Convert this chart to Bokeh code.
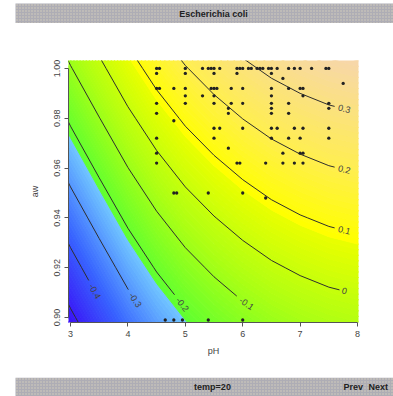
import numpy as np
from bokeh.plotting import figure
from bokeh.plotting.contour import contour_data
from bokeh.models import Range1d, FixedTicker, PrintfTickFormatter
from bokeh.layouts import column, row
from bokeh.embed import file_html
from bokeh.resources import INLINE
from bokeh.core.properties import value

# ---------------- data ----------------
title_text = "Escherichia coli"
footer_text = "temp=20"
nav_texts = ["Prev", "Next"]

ph_grid = [2.5, 3.0, 3.5, 4.0, 4.5, 5.0, 5.5, 6.0, 6.5, 7.0, 7.5, 8.0, 8.5]
aw_grid = [0.88, 0.90, 0.92, 0.94, 0.96, 0.98, 1.00, 1.02]
# modelled growth value (rows: aw, columns: pH)
growth_table = [
    [-0.692, -0.597, -0.512, -0.429, -0.357, -0.297, -0.249, -0.209, -0.176, -0.151, -0.132, -0.120, -0.112],
    [-0.610, -0.515, -0.430, -0.347, -0.275, -0.215, -0.167, -0.127, -0.094, -0.069, -0.050, -0.038, -0.030],
    [-0.528, -0.433, -0.348, -0.265, -0.193, -0.133, -0.085, -0.045, -0.012, 0.013, 0.032, 0.044, 0.052],
    [-0.446, -0.351, -0.266, -0.183, -0.111, -0.051, -0.003, 0.037, 0.070, 0.095, 0.114, 0.126, 0.134],
    [-0.364, -0.269, -0.184, -0.101, -0.029, 0.031, 0.079, 0.119, 0.152, 0.177, 0.196, 0.208, 0.216],
    [-0.282, -0.187, -0.102, -0.019, 0.053, 0.113, 0.161, 0.201, 0.234, 0.259, 0.278, 0.290, 0.298],
    [-0.200, -0.105, -0.020, 0.063, 0.135, 0.195, 0.243, 0.283, 0.316, 0.341, 0.360, 0.372, 0.380],
    [-0.118, -0.023, 0.062, 0.145, 0.217, 0.277, 0.325, 0.365, 0.398, 0.423, 0.442, 0.454, 0.462],
]
z_low, z_high = -0.53, 0.385

contour_levels = [-0.5, -0.4, -0.3, -0.2, -0.1, 0.0, 0.1, 0.2, 0.3]
contour_labels = ["", "-0.4", "-0.3", "-0.2", "-0.1", "0", "0.1", "0.2", "0.3"]
# where along each line the label sits (aw for negative levels, pH for the others)
label_at = [None, 0.9105, 0.907, 0.9052, 0.9055, 7.77, 7.77, 7.77, 7.77]

obs_ph = [
    4.5, 4.55, 5.0, 5.3, 5.4, 5.45, 5.5, 5.6, 5.9, 5.95, 6.0, 6.1, 6.15, 6.25, 6.3, 6.35, 6.45, 6.5, 6.6, 6.8, 6.9, 7.0, 7.2, 7.45, 7.5,
    4.5, 5.0, 5.5, 5.9, 6.5,
    6.7, 7.75,
    4.5, 4.55, 4.8, 5.0, 5.45, 5.5, 5.55, 5.8, 6.0, 6.5, 6.8, 7.0, 7.05,
    5.0, 5.3, 5.5, 6.5, 7.05,
    4.5, 5.0, 5.5, 5.8, 6.0, 6.5, 6.8, 7.5,
    5.75, 6.5, 7.5,
    4.5, 5.75, 6.5, 6.8,
    4.8,
    5.5, 5.6, 6.0, 6.5, 6.6, 6.9, 7.05, 7.5,
    4.5, 5.5, 6.5, 6.8, 7.0, 7.5,
    5.75,
    4.5, 6.7, 7.0, 7.05,
    4.5, 5.9, 5.95, 6.4, 6.7, 6.9, 7.05,
    4.8, 4.85, 5.4, 6.0, 6.4,
    4.65, 4.8, 4.95, 5.4, 6.0,
]
obs_aw = [
    1.0, 1.0, 1.0, 1.0, 1.0, 1.0, 1.0, 1.0, 1.0, 1.0, 1.0, 1.0, 1.0, 1.0, 1.0, 1.0, 1.0, 1.0, 1.0, 1.0, 1.0, 1.0, 1.0, 1.0, 1.0,
    0.998, 0.998, 0.998, 0.998, 0.998,
    0.996, 0.994,
    0.992, 0.992, 0.992, 0.992, 0.992, 0.992, 0.992, 0.992, 0.992, 0.992, 0.992, 0.992, 0.992,
    0.989, 0.989, 0.989, 0.989, 0.989,
    0.986, 0.986, 0.986, 0.986, 0.986, 0.986, 0.986, 0.986,
    0.984, 0.984, 0.984,
    0.982, 0.982, 0.982, 0.982,
    0.979,
    0.976, 0.976, 0.976, 0.976, 0.976, 0.976, 0.976, 0.976,
    0.972, 0.972, 0.972, 0.972, 0.972, 0.972,
    0.968,
    0.966, 0.966, 0.966, 0.966,
    0.962, 0.962, 0.962, 0.962, 0.962, 0.962, 0.962,
    0.950, 0.950, 0.950, 0.950, 0.948,
    0.899, 0.899, 0.899, 0.899, 0.899,
]

ph_ticks = [3, 4, 5, 6, 7, 8]
aw_ticks = [0.90, 0.92, 0.94, 0.96, 0.98, 1.00]

# ---------------- layout / style ----------------
FONT = "Liberation Sans"
W = 393
TOP_H, MAIN_H, BOT_H = 23, 354, 19
X_RANGE = (2.965, 8.017)
Y_RANGE = (0.898, 1.0032)
BL, BR, BT, BB = 68, 35, 37, 55
FRAME_W = W - BL - BR
FRAME_H = MAIN_H - BT - BB


def ramp(stops, n):
    pos = [s[0] for s in stops]
    out = []
    for t in np.linspace(0, 1, n):
        rgb = [np.interp(t, pos, [s[1][k] for s in stops]) for k in range(3)]
        out.append("#%02x%02x%02x" % tuple(int(round(c)) for c in rgb))
    return out


blue = ramp([(0, (58, 16, 246)), (0.5, (56, 100, 255)), (1, (112, 196, 255))], 34)
green = ramp([(0, (96, 255, 48)), (0.5, (170, 255, 20)), (1, (232, 255, 0))], 33)
warm = ramp([(0, (255, 255, 0)), (0.4, (255, 238, 80)), (1, (247, 215, 168))], 33)
palette = blue + green + warm

inner = [float(v) for v in np.linspace(z_low, z_high, len(palette) + 1)]
fill_levels = [-0.9] + inner + [0.6]
fill_colors = [palette[0]] + palette + [palette[-1]]

Z = np.array(growth_table, dtype=float)

p = figure(width=W, height=MAIN_H, x_range=Range1d(*X_RANGE), y_range=Range1d(*Y_RANGE),
           toolbar_location=None, output_backend="svg",
           min_border_left=BL, min_border_right=BR, min_border_top=BT, min_border_bottom=BB)
p.outline_line_color = None
p.grid.visible = False
p.background_fill_color = "white"

# filled colour bands computed by bokeh's contouring, stroked in their own colour (no seams)
cdf = contour_data(ph_grid, aw_grid, Z, levels=fill_levels, want_fill=True, want_line=False)
fd = cdf.fill_data
p.multi_polygons(xs=fd.xs, ys=fd.ys, fill_color=fill_colors, line_color=fill_colors,
                 line_width=1.0)

# contour lines with labels
cdl = contour_data(ph_grid, aw_grid, Z, levels=contour_levels, want_fill=False, want_line=True)
sx = FRAME_W / (X_RANGE[1] - X_RANGE[0])
sy = FRAME_H / (Y_RANGE[1] - Y_RANGE[0])


def split_nan(a, b):
    parts, cx, cy = [], [], []
    for xv, yv in zip(a, b):
        if np.isnan(xv) or np.isnan(yv):
            if len(cx) > 1:
                parts.append((np.array(cx), np.array(cy)))
            cx, cy = [], []
        else:
            cx.append(xv)
            cy.append(yv)
    if len(cx) > 1:
        parts.append((np.array(cx), np.array(cy)))
    return parts


lx, ly = [], []
tx, ty, tt, ta = [], [], [], []
for lev, lab, pos, xs_l, ys_l in zip(contour_levels, contour_labels, label_at,
                                     cdl.line_data.xs, cdl.line_data.ys):
    xs_l = np.asarray(xs_l, dtype=float)
    ys_l = np.asarray(ys_l, dtype=float)
    if xs_l.size < 2:
        continue
    for cx, cy in split_nan(xs_l, ys_l):
        if not lab:
            lx.append([float(v) for v in cx])
            ly.append([float(v) for v in cy])
            continue
        if lev >= 0:
            if cx[0] > cx[-1]:
                cx, cy = cx[::-1], cy[::-1]
        else:
            if cy[0] < cy[-1]:
                cx, cy = cx[::-1], cy[::-1]
        X = (cx - X_RANGE[0]) * sx
        Y = (cy - Y_RANGE[0]) * sy
        s = np.concatenate([[0.0], np.cumsum(np.hypot(np.diff(X), np.diff(Y)))])
        if lev >= 0:
            s_lab = float(np.interp(pos, cx, s))
        else:
            s_lab = float(np.interp(pos, cy[::-1], s[::-1]))
        xl = float(np.interp(s_lab, s, cx))
        yl = float(np.interp(s_lab, s, cy))
        Xa, Ya = np.interp(s_lab - 4, s, X), np.interp(s_lab - 4, s, Y)
        Xb, Yb = np.interp(s_lab + 4, s, X), np.interp(s_lab + 4, s, Y)
        ang = float(np.arctan2(Yb - Ya, Xb - Xa))
        r = 0.5 * len(lab) * 5.0 + 2.5
        s_cut = s_lab - r
        keep = s < s_cut
        px_ = [float(v) for v in cx[keep]] + [float(np.interp(s_cut, s, cx))]
        py_ = [float(v) for v in cy[keep]] + [float(np.interp(s_cut, s, cy))]
        lx.append(px_)
        ly.append(py_)
        tx.append(xl)
        ty.append(yl)
        tt.append(lab)
        ta.append(ang)

p.multi_line(lx, ly, line_color="#2e2e2e", line_width=1)
p.text(x=tx, y=ty, text=tt, angle=ta, text_align="center", text_baseline="middle",
       text_font=value(FONT), text_font_size="9px", text_color="#444444")

n = min(len(obs_ph), len(obs_aw))
p.scatter(obs_ph[:n], obs_aw[:n], marker="circle", size=3.3, fill_color="#222222", line_color=None)

# axes in R style
p.xaxis.ticker = FixedTicker(ticks=ph_ticks)
p.xaxis.bounds = (ph_ticks[0], ph_ticks[-1])
p.yaxis.ticker = FixedTicker(ticks=aw_ticks)
p.yaxis.bounds = (aw_ticks[0], aw_ticks[-1])
p.yaxis.formatter = PrintfTickFormatter(format="%.2f")
p.yaxis.major_label_orientation = "vertical"
for ax in p.axis:
    ax.major_tick_out = 4
    ax.major_tick_in = 0
    ax.minor_tick_line_color = None
    ax.axis_line_color = "#555555"
    ax.major_tick_line_color = "#555555"
    ax.major_label_text_font = FONT
    ax.major_label_text_font_size = "9px"
    ax.major_label_text_color = "#444444"
    ax.axis_label_text_font = FONT
    ax.axis_label_text_font_size = "9px"
    ax.axis_label_text_font_style = "normal"
    ax.axis_label_text_color = "#444444"
p.xaxis.axis_label = "pH"
p.yaxis.axis_label = "aw"
p.xaxis.major_label_standoff = 4
p.xaxis.axis_label_standoff = 6
p.yaxis.major_label_standoff = 4
p.yaxis.axis_label_standoff = 12


def band(h, band_bottom, band_top, items):
    b = figure(width=W, height=h, x_range=Range1d(0, W), y_range=Range1d(0, h),
               toolbar_location=None, output_backend="svg", min_border=0,
               x_axis_type=None, y_axis_type=None)
    b.outline_line_color = None
    b.grid.visible = False
    b.quad(left=15, right=W, bottom=band_bottom, top=band_top, fill_color="#aeadb5",
           line_color=None, hatch_pattern="dot", hatch_color="#d6d0bc", hatch_scale=3,
           hatch_weight=1)
    yc = (band_bottom + band_top) / 2.0
    for txt, x, align in items:
        b.text(x=[x], y=[yc], text=[txt], text_align=align, text_baseline="middle",
               text_font=value(FONT), text_font_size="9px", text_font_style="bold",
               text_color="#222222")
    return b


top = band(TOP_H, 0, 20, [(title_text, 213, "center")])
bottom = band(BOT_H, 0, 19, [(footer_text, 212, "center"), (nav_texts[0], 343, "left"),
                             (nav_texts[1], 368, "left")])

layout = column(row(top), p, row(bottom), spacing=0)
open("out.html", "w").write(file_html(layout, INLINE))
